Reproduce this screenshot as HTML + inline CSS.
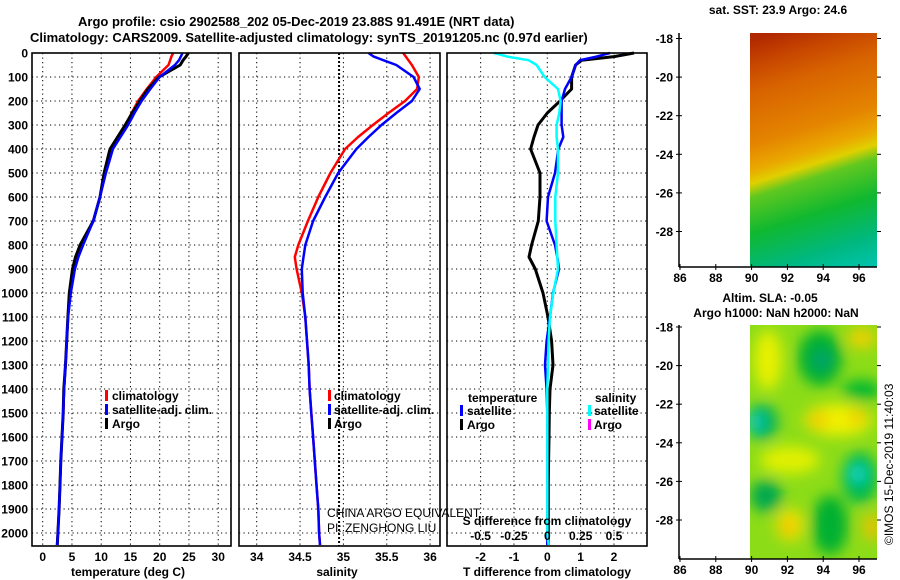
<!DOCTYPE html>
<html><head><meta charset="utf-8">
<style>
html,body{margin:0;padding:0;background:#fff;}
svg{display:block;font-family:"Liberation Sans",Arial,sans-serif;}
.b{font-weight:bold;font-size:12px;}
</style></head>
<body>
<svg id="chart" width="900" height="580" viewBox="0 0 900 580" xmlns="http://www.w3.org/2000/svg">
<defs>
<linearGradient id="sstg" gradientUnits="userSpaceOnUse" x1="780" y1="30" x2="860" y2="283">
<stop offset="0" stop-color="#b02800"/>
<stop offset="0.1" stop-color="#c84800"/>
<stop offset="0.2" stop-color="#d86400"/>
<stop offset="0.38" stop-color="#e48400"/>
<stop offset="0.47" stop-color="#eaa800"/>
<stop offset="0.52" stop-color="#e0d000"/>
<stop offset="0.57" stop-color="#60c820"/>
<stop offset="0.7" stop-color="#10b830"/>
<stop offset="0.85" stop-color="#00b880"/>
<stop offset="1" stop-color="#00c8c0"/>
</linearGradient>
<filter id="blur" x="-50%" y="-50%" width="200%" height="200%"><feGaussianBlur stdDeviation="7"/></filter>
<clipPath id="clipBot"><rect x="750" y="325" width="127" height="234"/></clipPath>
</defs>
<g id="titles">
<text x="78" y="26" font-size="13" font-weight="bold">Argo profile: csio 2902588_202 05-Dec-2019 23.88S 91.491E (NRT data)</text>
<text x="30" y="42" font-size="13" font-weight="bold">Climatology: CARS2009. Satellite-adjusted climatology: synTS_20191205.nc (0.97d earlier)</text>
</g>
<g id="grid"></g>
<g id="series"></g>
<g id="axes"></g>
<g id="maps">
<text class="b" x="778" y="14" text-anchor="middle">sat. SST: 23.9 Argo: 24.6</text>
<rect x="750" y="33" width="127" height="234" fill="url(#sstg)"/>
<text class="b" x="770" y="302" text-anchor="middle">Altim. SLA: -0.05</text>
<text class="b" x="776" y="317" text-anchor="middle">Argo h1000: NaN h2000: NaN</text>
<g clip-path="url(#clipBot)">
<rect x="750" y="325" width="127" height="234" fill="#8cdc18"/>
<g filter="url(#blur)">
<ellipse cx="768" cy="360" rx="14" ry="30" fill="#e8f000"/>
<ellipse cx="820" cy="358" rx="22" ry="28" fill="#00b030"/>
<ellipse cx="822" cy="360" rx="9" ry="10" fill="#00a070"/>
<ellipse cx="862" cy="338" rx="14" ry="10" fill="#f0d000"/>
<ellipse cx="862" cy="390" rx="20" ry="10" fill="#00b830"/>
<ellipse cx="762" cy="422" rx="16" ry="18" fill="#00b060"/>
<ellipse cx="756" cy="422" rx="7" ry="9" fill="#10d0c0"/>
<ellipse cx="838" cy="420" rx="34" ry="16" fill="#f0f000"/>
<ellipse cx="818" cy="420" rx="10" ry="8" fill="#f0c800"/>
<ellipse cx="858" cy="417" rx="9" ry="7" fill="#f0c800"/>
<ellipse cx="790" cy="460" rx="30" ry="14" fill="#e0f000"/>
<ellipse cx="860" cy="478" rx="18" ry="26" fill="#00b850"/>
<ellipse cx="858" cy="474" rx="8" ry="9" fill="#10d8d0"/>
<ellipse cx="766" cy="496" rx="16" ry="16" fill="#00a850"/>
<ellipse cx="790" cy="525" rx="14" ry="16" fill="#f0e000"/>
<ellipse cx="788" cy="527" rx="6" ry="6" fill="#f0b000"/>
<ellipse cx="830" cy="525" rx="18" ry="30" fill="#00b030"/>
<ellipse cx="872" cy="527" rx="8" ry="14" fill="#f0c000"/>
</g>
</g>
<g id="mapaxes"></g>
</g>
<text font-size="12" transform="translate(893,545) rotate(-90)">©IMOS 15-Dec-2019 11:40:03</text>
<g id="legends" class="b">
<g>
<rect x="105" y="390" width="3" height="11" fill="#f00"/><text x="112" y="400">climatology</text>
<rect x="105" y="404" width="3" height="11" fill="#00f"/><text x="112" y="414">satellite-adj. clim.</text>
<rect x="105" y="418" width="3" height="11" fill="#000"/><text x="112" y="428">Argo</text>
</g>
<g>
<rect x="328" y="390" width="3" height="11" fill="#f00"/><text x="334" y="400">climatology</text>
<rect x="328" y="404" width="3" height="11" fill="#00f"/><text x="334" y="414">satellite-adj. clim.</text>
<rect x="328" y="418" width="3" height="11" fill="#000"/><text x="334" y="428">Argo</text>
</g>
<g>
<text x="468" y="402">temperature</text>
<rect x="460" y="405" width="3" height="11" fill="#00f"/><text x="467" y="415">satellite</text>
<rect x="460" y="419" width="3" height="11" fill="#000"/><text x="467" y="429">Argo</text>
<text x="595" y="402">salinity</text>
<rect x="588" y="405" width="3" height="11" fill="#0ff"/><text x="594" y="415">satellite</text>
<rect x="588" y="419" width="3" height="11" fill="#f0f"/><text x="594" y="429">Argo</text>
</g>
</g>
<text x="327" y="517" font-size="12">CHINA ARGO EQUIVALENT</text>
<text x="327" y="532" font-size="12">PI: ZENGHONG LIU</text>
</svg>
<script>
// ---- data ----
const depths = [0,15,30,50,100,150,200,250,300,350,400,500,600,700,800,850,900,1000,1100,1200,1300,1400,1500,1600,1700,1800,1900,2000,2050];
const tempArgo = [24.9,24.5,24.0,23.5,19.9,18.0,16.6,15.3,14.1,12.8,11.5,10.5,9.8,8.65,6.4,5.6,5.1,4.55,4.3,4.1,3.9,3.6,3.5,3.3,3.1,2.95,2.8,2.6,2.5];
const tempClim = [22.3,22.0,21.8,21.5,19.4,17.8,16.3,15.2,14.3,13.0,11.8,10.6,9.8,8.65,6.7,5.9,5.35,4.6,4.3,4.1,3.9,3.65,3.5,3.3,3.1,2.95,2.8,2.6,2.45];
const tempSat = [23.9,23.6,23.3,22.6,20.0,18.4,16.9,15.7,14.6,13.3,12.0,10.8,9.8,8.65,6.9,6.1,5.5,4.8,4.35,4.1,3.9,3.65,3.5,3.3,3.1,2.95,2.8,2.6,2.5];
const salClim = [35.69,35.72,35.75,35.79,35.87,35.85,35.71,35.52,35.34,35.17,35.02,34.85,34.71,34.59,34.48,34.44,34.46,34.52,34.56,34.58,34.60,34.61,34.63,34.65,34.67,34.69,34.71,34.72,34.73];
const salSat = [35.29,35.35,35.46,35.61,35.81,35.88,35.79,35.61,35.44,35.29,35.15,34.94,34.79,34.65,34.56,34.54,34.52,34.53,34.56,34.58,34.60,34.61,34.63,34.65,34.67,34.69,34.71,34.72,34.73];
const dTArgo = [2.6,2.0,1.03,0.85,0.73,0.73,0.38,0.0,-0.28,-0.4,-0.5,-0.22,-0.22,-0.27,-0.47,-0.55,-0.36,-0.13,0.02,0.13,0.17,0.08,0.06,0.05,0.04,0.03,0.03,0.03,0.03];
const dTSat = [1.88,1.48,0.98,0.85,0.73,0.53,0.43,0.43,0.43,0.48,0.33,0.23,0.02,-0.02,0.23,0.3,0.35,0.17,0.08,-0.02,-0.07,-0.02,0.0,0.0,0.0,0.0,0.0,0.0,0.0];
const dSSat = [-0.40,-0.30,-0.14,-0.08,-0.02,0.08,0.10,0.09,0.07,0.07,0.08,0.08,0.06,0.06,0.07,0.075,0.08,0.045,0.02,0.01,0.005,0.0,0.0,0.0,0.0,0.0,0.0,0.0,0.01];
const depthTicks = [0,100,200,300,400,500,600,700,800,900,1000,1100,1200,1300,1400,1500,1600,1700,1800,1900,2000];
const tempTicks = [0,5,10,15,20,25,30];
const salTicks = [34,34.5,35,35.5,36];
const dTTicks = [-2,-1,0,1,2];
const dSTicks = [-0.5,-0.25,0,0.25,0.5];
const dSTickLabels = ["-0.5","-0.25","0","0.25","0.5"];
const lonTicks = [86,88,90,92,94,96];
const latTicks = [-18,-20,-22,-24,-26,-28];

// ---- scales ----
const Y0=53, YB=546;
const yD = d => Y0 + d*0.24;
const xT = t => 42.7 + t*5.85;
const xS = s => 256.7 + (s-34)*86.7;
const xDT = t => 547.3 + t*33.33;
const xDS = s => 547.3 + s*133.33;
const panels = [{x0:32,x1:231},{x0:239,x1:440},{x0:447,x1:647}];
const NS="http://www.w3.org/2000/svg";
function mk(tag, attrs, parent){const e=document.createElementNS(NS,tag);for(const k in attrs)e.setAttribute(k,attrs[k]);parent.appendChild(e);return e;}
const grid=document.getElementById('grid'), ser=document.getElementById('series'), ax=document.getElementById('axes');

// grid
panels.forEach((p,i)=>{
  depthTicks.forEach(d=>{ if(d===0) return;
    const l=mk('line',{x1:p.x0,x2:p.x1,y1:yD(d),y2:yD(d),stroke:'#000','stroke-width':1,'stroke-dasharray':'1.2 3.3'},grid);
    
    
  });
});
function vgrid(vals, f){ vals.forEach(v=>{const l=mk('line',{x1:f(v),x2:f(v),y1:Y0,y2:YB,stroke:'#000','stroke-width':1,'stroke-dasharray':'1.2 3.3'},grid);
  
  });}
vgrid(tempTicks,xT); vgrid(salTicks,xS); vgrid(dTTicks,xDT);
const ref=mk('line',{x1:xS(34.95),x2:xS(34.95),y1:Y0,y2:YB,stroke:'#000','stroke-width':2,'stroke-dasharray':'2 2'},grid);



// series
function line(vals, fx, color, w, name){
  const pts=vals.map((v,i)=>fx(v).toFixed(1)+','+yD(depths[i]).toFixed(1)).join(' ');
  const pl=mk('polyline',{points:pts,fill:'none',stroke:color,'stroke-width':w,'stroke-linejoin':'round'},ser);
  
  
}
line(tempClim,xT,'#f00',2.5,'temperature-climatology-line');
line(tempArgo,xT,'#000',3,'temperature-argo-line');
line(tempSat,xT,'#00f',2.5,'temperature-satellite-line');
line(salClim,xS,'#f00',2.5,'salinity-climatology-line');
line(salSat,xS,'#00f',2.5,'salinity-satellite-line');
line(dTArgo,xDT,'#000',3,'t-diff-argo-line');
line(dTSat,xDT,'#00f',2.5,'t-diff-satellite-line');
line(dSSat,xDS,'#0ff',2.5,'s-diff-satellite-line');

// panel frames and labels
panels.forEach((p,i)=>{
  const r=mk('rect',{x:p.x0,y:Y0,width:p.x1-p.x0,height:YB-Y0,fill:'none',stroke:'#000','stroke-width':1.6},ax);
  
  
});
depthTicks.forEach(d=>{
  const t=mk('text',{x:28,y:yD(d)+4.5,'text-anchor':'end','class':'b'},ax);
  t.textContent=d;
  
  
});
function xlabels(vals, labels, f, y){vals.forEach((v,i)=>{const t=mk('text',{x:f(v),y:y,'text-anchor':'middle','class':'b'},ax);t.textContent=labels[i];
  
  });}
xlabels(tempTicks,tempTicks.map(String),xT,561);
xlabels(salTicks,salTicks.map(String),xS,561);
xlabels(dTTicks,dTTicks.map(String),xDT,561);
xlabels(dSTicks,dSTickLabels,xDS,540);
function title(txt,x,y,name){const t=mk('text',{x:x,y:y,'text-anchor':'middle','class':'b'},ax);t.textContent=txt;
  
  }
title('temperature (deg C)',128,576,'temperature-axis-title');
title('salinity',337,576,'salinity-axis-title');
title('T difference from climatology',547,576,'t-diff-axis-title');
title('S difference from climatology',547,525,'s-diff-axis-title');

// map axes
const ma=document.getElementById('mapaxes');
const xL = lon => 680 + (lon-86)*17.9;
[{top:33,bot:267,lat18:38.5},{top:325,bot:559,lat18:327}].forEach((m,k)=>{
  const yL = lat => m.lat18 + (-18-lat)*19.3;
  mk('line',{x1:679,x2:679,y1:m.top,y2:m.bot,stroke:'#000','stroke-width':1.5},ma);
  mk('line',{x1:679,x2:877,y1:m.bot,y2:m.bot,stroke:'#000','stroke-width':1.5},ma);
  latTicks.forEach(l=>{
    mk('line',{x1:676,x2:682,y1:yL(l),y2:yL(l),stroke:'#000'},ma);
    mk('line',{x1:877,x2:881,y1:yL(l),y2:yL(l),stroke:'#000'},ma);
    const t=mk('text',{x:673,y:yL(l)+4.5,'text-anchor':'end','class':'b'},ma);t.textContent=l;
    
    
  });
  lonTicks.forEach(l=>{
    mk('line',{x1:xL(l),x2:xL(l),y1:m.bot-3,y2:m.bot+3,stroke:'#000'},ma);
    const t=mk('text',{x:xL(l),y:m.bot+15,'text-anchor':'middle','class':'b'},ma);t.textContent=l;
    
    
  });
});
</script>
</body></html>
